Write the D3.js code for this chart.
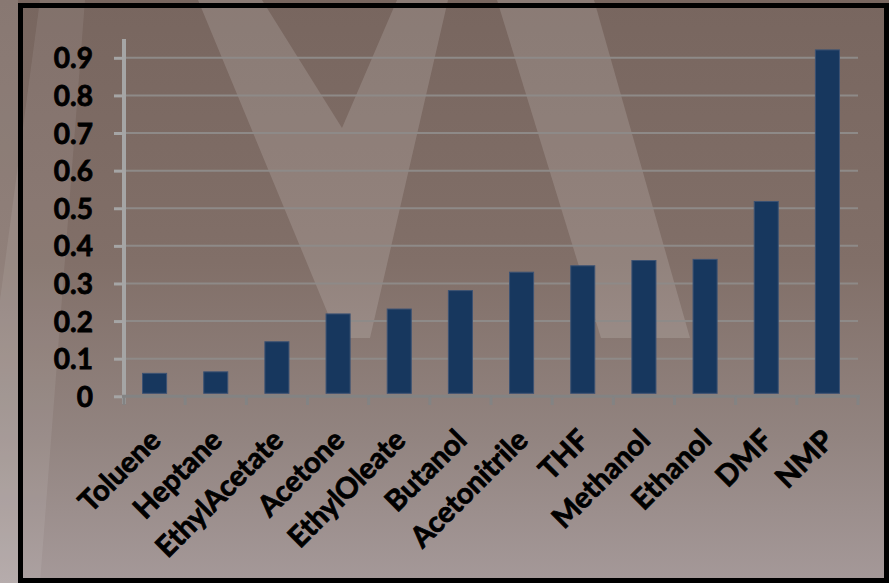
<!DOCTYPE html>
<html>
<head>
<meta charset="utf-8">
<script src="https://cdn.jsdelivr.net/npm/d3@7"></script>
<style>
  html, body { margin: 0; padding: 0; background: #7a6a64; }
  svg { display: block; }
</style>
</head>
<body>
<svg id="chart" width="889" height="583"></svg>
<script>
const categories = ["Toluene", "Heptane", "EthylAcetate", "Acetone", "EthylOleate", "Butanol",
  "Acetonitrile", "THF", "Methanol", "Ethanol", "DMF", "NMP"];
const values = [0.061, 0.065, 0.145, 0.219, 0.232, 0.281, 0.330, 0.347, 0.361, 0.364, 0.518, 0.921];
const yTicks = [0, 0.1, 0.2, 0.3, 0.4, 0.5, 0.6, 0.7, 0.8, 0.9];
const yTickLabels = ["0", "0.1", "0.2", "0.3", "0.4", "0.5", "0.6", "0.7", "0.8", "0.9"];

const W = 889, H = 583;
const svg = d3.select("#chart");
const defs = svg.append("defs");

// background gradient
const bg = defs.append("linearGradient").attr("id", "bg").attr("x1", 0).attr("y1", 0).attr("x2", 0).attr("y2", 1);
bg.append("stop").attr("offset", "0%").attr("stop-color", "#78665f");
bg.append("stop").attr("offset", "45%").attr("stop-color", "#816f68");
bg.append("stop").attr("offset", "75%").attr("stop-color", "#928480");
bg.append("stop").attr("offset", "100%").attr("stop-color", "#a59999");
svg.append("rect").attr("width", W).attr("height", H).attr("fill", "url(#bg)");

// decorative light "W" shapes
const light = "rgba(255,255,255,0.14)";
const bgShapes = [
  [[198, 0], [262, 0], [342, 128], [397, 0], [448, 0], [370, 338], [338, 338]],
  [[497, 0], [594, 0], [690, 338], [601, 338]],
  [[40, 0], [85, 0], [40, 583], [0, 583], [0, 300]]
];
svg.append("g").selectAll("path").data(bgShapes).join("path")
  .attr("d", d => d3.line()(d) + "Z")
  .attr("fill", (d, i) => i === 2 ? "rgba(255,255,255,0.08)" : light);
// lighter strip outside left border
svg.append("rect").attr("x", 0).attr("y", 0).attr("width", 18).attr("height", H)
  .attr("fill", "rgba(255,255,255,0.12)");

// scales
const x = d3.scaleBand().domain(categories).range([124, 858]).paddingInner(0.607).paddingOuter(0.3035);
const y = d3.scaleLinear().domain([0, 0.95]).range([396.3, 39]);

// gridlines
svg.append("g").selectAll("line").data(yTicks.filter(t => t > 0)).join("line")
  .attr("x1", 124).attr("x2", 858)
  .attr("y1", d => y(d)).attr("y2", d => y(d))
  .attr("stroke", "#8e8a88").attr("stroke-width", 2);

// bars
svg.append("g").selectAll("rect").data(values).join("rect")
  .attr("x", (d, i) => x(categories[i]))
  .attr("width", x.bandwidth())
  .attr("y", d => y(d))
  .attr("height", d => y(0) - 3 - y(d))
  .attr("fill", "#17375e")
  .attr("stroke", "#3c5273").attr("stroke-width", 1);

const fontFam = "Lato, 'Open Sans', sans-serif";

// y axis
const yAxis = d3.axisLeft(y).tickValues(yTicks).tickSize(10).tickFormat((d, i) => yTickLabels[i]);
const gy = svg.append("g").attr("transform", "translate(124,0)").call(yAxis);
gy.select(".domain").remove();
gy.append("line").attr("x1", 0).attr("x2", 0).attr("y1", 39).attr("y2", 404)
  .attr("stroke", "#a5a5a5").attr("stroke-width", 4);
gy.selectAll(".tick line").attr("stroke", "#a5a5a5").attr("stroke-width", 3);
gy.selectAll(".tick text")
  .attr("x", -31).attr("dy", "0.36em")
  .attr("fill", "#000").attr("stroke", "#000").attr("stroke-width", 0.8)
  .attr("font-family", fontFam)
  .attr("font-weight", "bold").attr("font-size", 28);

// x axis
const xb = svg.append("g");
xb.append("line").attr("x1", 122).attr("x2", 860).attr("y1", y(0)).attr("y2", y(0))
  .attr("stroke", "#838383").attr("stroke-width", 3);
const boundaries = categories.map(c => x(c) - (x.step() - x.bandwidth()) / 2).concat([858]);
xb.selectAll("line.tk").data(boundaries).join("line").attr("class", "tk")
  .attr("x1", d => d).attr("x2", d => d).attr("y1", y(0)).attr("y2", 405)
  .attr("stroke", "#838383").attr("stroke-width", 3);
xb.selectAll("text").data(categories).join("text")
  .attr("transform", d => `translate(${x(d) + x.bandwidth() / 2 + 8},442) rotate(-45)`)
  .attr("text-anchor", "end")
  .attr("fill", "#000").attr("stroke", "#000").attr("stroke-width", 0.8)
  .attr("font-family", fontFam)
  .attr("font-weight", "bold").attr("font-size", 29)
  .text(d => d);

// black frame
svg.append("rect").attr("x", 20.5).attr("y", 5.5).attr("width", 866).attr("height", 575)
  .attr("fill", "none").attr("stroke", "#000").attr("stroke-width", 5);
</script>
</body>
</html>
